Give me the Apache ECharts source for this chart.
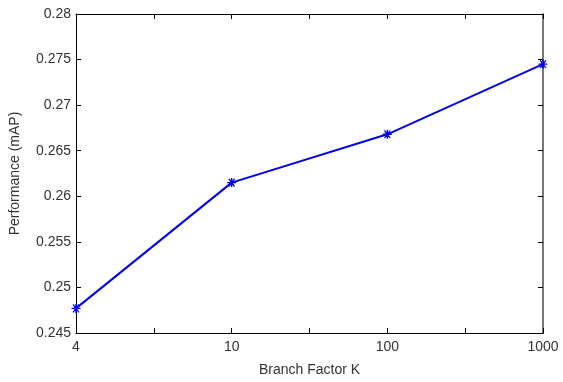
<!DOCTYPE html>
<html>
<head>
<meta charset="utf-8">
<script src="https://cdn.jsdelivr.net/npm/echarts@6/dist/echarts.min.js"></script>
<style>
html,body{margin:0;padding:0;background:#fff;}
#chart{width:563px;height:382px;}
</style>
</head>
<body>
<div id="chart"></div>
<script>
// Data
const categories = ['4', '10', '100', '1000'];
const values = [0.2477, 0.2615, 0.2668, 0.2745];
const yTicks = [0.245, 0.25, 0.255, 0.26, 0.265, 0.27, 0.275, 0.28];

const points = categories.map((c, i) => [i + 1, values[i]]);
const labelAt = (v) => {
  const idx = Math.round(v) - 1;
  return Math.abs(v - Math.round(v)) < 1e-6 && categories[idx] !== undefined ? categories[idx] : '';
};

const font = 'Liberation Sans, Arial, sans-serif';
const star = 'path://M-0.8,-5L0.8,-5L0.8,-0.8L5,-0.8L5,0.8L0.8,0.8L0.8,5L-0.8,5L-0.8,0.8L-5,0.8L-5,-0.8L-0.8,-0.8Z' +
  'M-3.5,-4.5L-2.5,-4.5L0,-1L2.5,-4.5L3.5,-4.5L3.5,-3.5L1,0L3.5,3.5L3.5,4.5L2.5,4.5L0,1L-2.5,4.5L-3.5,4.5L-3.5,3.5L-1,0L-3.5,-3.5Z';

const chart = echarts.init(document.getElementById('chart'), null, {renderer: 'canvas'});
const tickStyle = {show: true, inside: true, length: 5, lineStyle: {color: '#000', width: 1}};
const txt = '#333';
chart.setOption({
  backgroundColor: '#fff',
  animation: false,
  grid: {left: 74, right: 20, top: 14, bottom: 39, containLabel: false},
  xAxis: [{
    type: 'value', min: 1, max: 4, interval: 0.5, position: 'bottom',
    name: 'Branch Factor K', nameLocation: 'middle', nameGap: 30,
    nameTextStyle: {color: txt, fontFamily: font, fontSize: 14},
    axisLine: {show: true, onZero: false, lineStyle: {color: '#000', width: 1}},
    axisTick: tickStyle,
    axisLabel: {color: txt, fontFamily: font, fontSize: 14, margin: 7, formatter: labelAt},
    splitLine: {show: false}
  }, {
    type: 'value', min: 1, max: 4, interval: 0.5, position: 'top',
    axisLine: {show: true, onZero: false, lineStyle: {color: '#000', width: 1}},
    axisTick: tickStyle, axisLabel: {show: false}, splitLine: {show: false}
  }],
  yAxis: [{
    type: 'value', min: 0.245, max: 0.28, interval: 0.005, position: 'left',
    name: 'Performance (mAP)', nameLocation: 'middle', nameGap: 54,
    nameTextStyle: {color: txt, fontFamily: font, fontSize: 14},
    axisLine: {show: true, onZero: false, lineStyle: {color: '#000', width: 1}},
    axisTick: tickStyle,
    axisLabel: {color: txt, fontFamily: font, fontSize: 14, margin: 5,
      formatter: (v) => { const t = yTicks.find(x => Math.abs(x - v) < 1e-9); return t !== undefined ? String(t) : ''; }},
    splitLine: {show: false}
  }, {
    type: 'value', min: 0.245, max: 0.28, interval: 0.005, position: 'right',
    axisLine: {show: true, onZero: false, lineStyle: {color: '#777', width: 2}},
    axisTick: tickStyle, axisLabel: {show: false}, splitLine: {show: false}
  }],
  series: [{
    type: 'line', xAxisIndex: 0, yAxisIndex: 0,
    data: points,
    lineStyle: {color: '#0000ee', width: 2},
    itemStyle: {color: '#0000ee'},
    symbol: star, symbolSize: 9, showSymbol: true
  }]
});
</script>
</body>
</html>
